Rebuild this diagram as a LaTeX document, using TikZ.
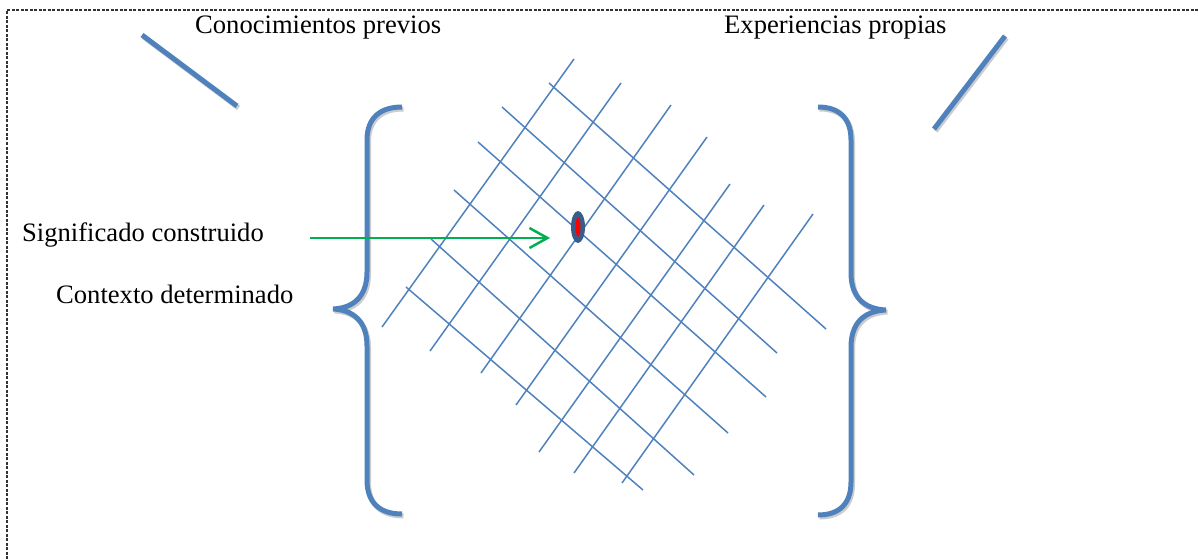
\documentclass[tikz,border=0pt]{standalone}
\usepackage{fontspec}
\setmainfont{Liberation Serif}
\usetikzlibrary{arrows.meta,shapes.geometric}
\definecolor{azul}{RGB}{79,129,189}
\definecolor{azuloscuro}{RGB}{56,93,138}
\definecolor{verde}{RGB}{0,176,80}
\begin{document}
\begin{tikzpicture}[x=1pt,y=-1pt,
    etiqueta/.style={anchor=base west,inner sep=0,font=\fontsize{26.6}{31}\selectfont},
    trazo/.style={draw=azul,line width=5pt,
      preaction={draw=black!20,line width=5pt,transform canvas={xshift=1.5pt,yshift=-2pt}}},
    malla/.style={draw=azul,line width=1.5pt}]
  \useasboundingbox (0,0) rectangle (1198,559);
  % marco
  \draw [dash pattern=on 3pt off 1.5pt,line width=1.2pt,black!80] (7,559) -- (7,10) -- (1198,10);
  % textos
  \node [etiqueta] (previos) at (195,34) {Conocimientos previos};
  \node [etiqueta] (propias) at (724,34) {Experiencias propias};
  \node [etiqueta] (significado) at (22,241) {Significado construido};
  \node [etiqueta] (contexto) at (56,303) {Contexto determinado};
  % trazos gruesos
  \draw [trazo,line cap=butt] (142,35) -- (237,106);
  \draw [trazo,line cap=butt] (1005,36) -- (934,129);
  % llaves
  \draw [trazo] (402,107) .. controls (380,107) and (367,118) .. (367,140) -- (367,272)
    .. controls (367,295) and (355,308) .. (333,309) .. controls (355,310) and (367,323) .. (367,346)
    -- (367,480) .. controls (367,503) and (380,514) .. (402,514);
  \draw [trazo] (818,107) .. controls (839,107) and (851,118) .. (851,140) -- (851,273)
    .. controls (851,296) and (863,309) .. (886,310) .. controls (863,311) and (851,324) .. (851,347)
    -- (851,482) .. controls (851,504) and (839,515) .. (818,515);
  % malla
  \foreach \xa/\ya/\xb/\yb in {382/327/574/59, 430/351/621/83, 481/373/671/105,
      516/405/707/137, 539/452/730/184, 574/473/764/205, 622/483/813/214}
    \draw [malla] (\xa,\ya) -- (\xb,\yb);
  \foreach \xa/\ya/\xb/\yb in {549/83/826/329, 502/107/777/353, 478/142/766/397,
      454/190/728/433, 431/239/694/475, 406/287/643/490}
    \draw [malla] (\xa,\ya) -- (\xb,\yb);
  % punto
  \node [ellipse,fill=azuloscuro,minimum width=14pt,minimum height=32pt,inner sep=0] (punto) at (578,227) {};
  \node [ellipse,fill=red,minimum width=5pt,minimum height=19pt,inner sep=0] (centro) at (punto) {};
  % flecha
  \coordinate (inicio) at (310,238);
  \coordinate (fin) at (550,238);
  \draw [verde,line width=2.5pt,-{Straight Barb[length=18pt,width=20pt]}] (inicio) -- (fin);
\end{tikzpicture}
\end{document}
